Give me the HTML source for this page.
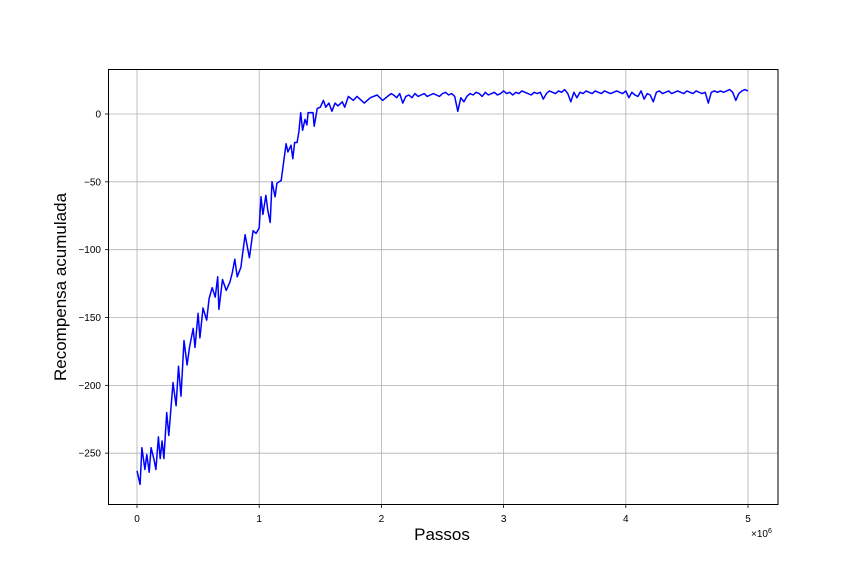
<!DOCTYPE html>
<html><head><meta charset="utf-8"><style>
html,body{margin:0;padding:0;background:#fff;}
svg{display:block;font-family:"Liberation Sans","DejaVu Sans",sans-serif;}
</style></head><body>
<svg id="chart" width="864" height="576">
<rect x="0" y="0" width="864" height="576" fill="#fff"/>
<g id="grid"></g>
<g id="ticks"></g>
<rect x="108.5" y="69.5" width="669.5" height="435" fill="none" stroke="#000" stroke-width="1"/>
<g id="series"></g>
<text x="442" y="540" font-size="17" text-anchor="middle">Passos</text>
<text transform="translate(66,287) rotate(-90)" font-size="17" text-anchor="middle">Recompensa acumulada</text>
<text x="751" y="537" font-size="10">×10<tspan dy="-4" font-size="7">6</tspan></text>
</svg>
<script>
const xTicks=[0,1,2,3,4,5];
const xTickLabels=["0","1","2","3","4","5"];
const yTicks=[-250,-200,-150,-100,-50,0];
const yTickLabels=["−250","−200","−150","−100","−50","0"];
const riseSteps=[0,0.025,0.04,0.065,0.08,0.1,0.115,0.14,0.155,0.175,0.19,0.205,0.22,0.243,0.26,0.295,0.32,0.34,0.36,0.385,0.41,0.43,0.46,0.475,0.5,0.515,0.54,0.57,0.59,0.615,0.64,0.66,0.67,0.7,0.73,0.76,0.78,0.8,0.82,0.85,0.86,0.885,0.92,0.95,0.975,1.0,1.015,1.03,1.055,1.07,1.09,1.105,1.13,1.145,1.18,1.195,1.22,1.235,1.26,1.275,1.29,1.31,1.325,1.34,1.355,1.375,1.39,1.4,1.42,1.44,1.45,1.475,1.5,1.525,1.545,1.57,1.595,1.62,1.645,1.68,1.7,1.73,1.77,1.8,1.86,1.91,1.965,2.01,2.05,2.08];
const riseValues=[-263,-273,-246,-262,-251,-264,-246,-255,-262,-238,-254,-241,-254,-220,-237,-198,-215,-186,-208,-167,-185,-172,-158,-172,-147,-165,-143,-152,-136,-128,-135,-120,-144,-122,-130,-124,-117,-107,-120,-113,-106,-89,-106,-86,-88,-84,-61,-74,-60,-71,-80,-50,-61,-51,-49,-39,-22,-28,-23,-33,-21,-21,-13,1,-12,-4,-8,1,1,1,-9,4,5,10,5,8,2,8,6,9,5,13,10,13,8,12,14,10,13,15];
const plateauStart=2.1, plateauStep=0.025;
const plateauValues=[
14,12,15,8,13,14,12,15,13,14,15,13,
14,15,14,13,15,16,14,15,13,2,12,9,
13,15,14,16,15,13,16,14,15,16,14,15,
17,15,16,14,16,15,17,16,15,14,16,15,
16,11,15,17,16,15,17,16,18,15,9,16,
12,16,15,17,16,15,17,16,15,17,16,15,
16,17,16,15,17,12,16,14,13,17,11,15,
14,9,16,17,15,16,17,15,16,17,16,15,
17,16,15,17,16,15,16,8,16,17,16,17,
16,17,18,16,10,15,17,18,17];
const X=m=>137+m*122.2;
const Y=v=>114-v*1.3567;
const NS="http://www.w3.org/2000/svg";
const grid=document.getElementById('grid'),ticks=document.getElementById('ticks'),series=document.getElementById('series');
function mk(tag,attrs,parent){const e=document.createElementNS(NS,tag);for(const k in attrs)e.setAttribute(k,attrs[k]);parent.appendChild(e);return e;}
xTicks.forEach((t,i)=>{const x=X(t);
const g=mk('line',{x1:x,x2:x,y1:69.5,y2:504.5,stroke:'#b0b0b0','stroke-width':0.8},grid);


const tk=mk('line',{x1:x,x2:x,y1:504.5,y2:508,stroke:'#000','stroke-width':0.8},ticks);


const tl=mk('text',{x:x,y:522,'font-size':10,'text-anchor':'middle'},ticks);tl.textContent=xTickLabels[i];

});
yTicks.forEach((t,i)=>{const y=Y(t);
const g=mk('line',{x1:108.5,x2:778,y1:y,y2:y,stroke:'#b0b0b0','stroke-width':0.8},grid);


const tk=mk('line',{x1:105,x2:108.5,y1:y,y2:y,stroke:'#000','stroke-width':0.8},ticks);


const tl=mk('text',{x:101,y:y+3.5,'font-size':10,'text-anchor':'end'},ticks);tl.textContent=yTickLabels[i];

});
const pts=[];
riseSteps.forEach((s,i)=>pts.push([X(s),Y(riseValues[i])]));
plateauValues.forEach((v,i)=>pts.push([X(plateauStart+i*plateauStep),Y(v)]));
const line=mk('polyline',{points:pts.map(p=>p[0].toFixed(1)+','+p[1].toFixed(1)).join(' '),fill:'none',stroke:'#0000ff','stroke-width':1.5,'stroke-linejoin':'round'},series);


</script>
</body></html>
